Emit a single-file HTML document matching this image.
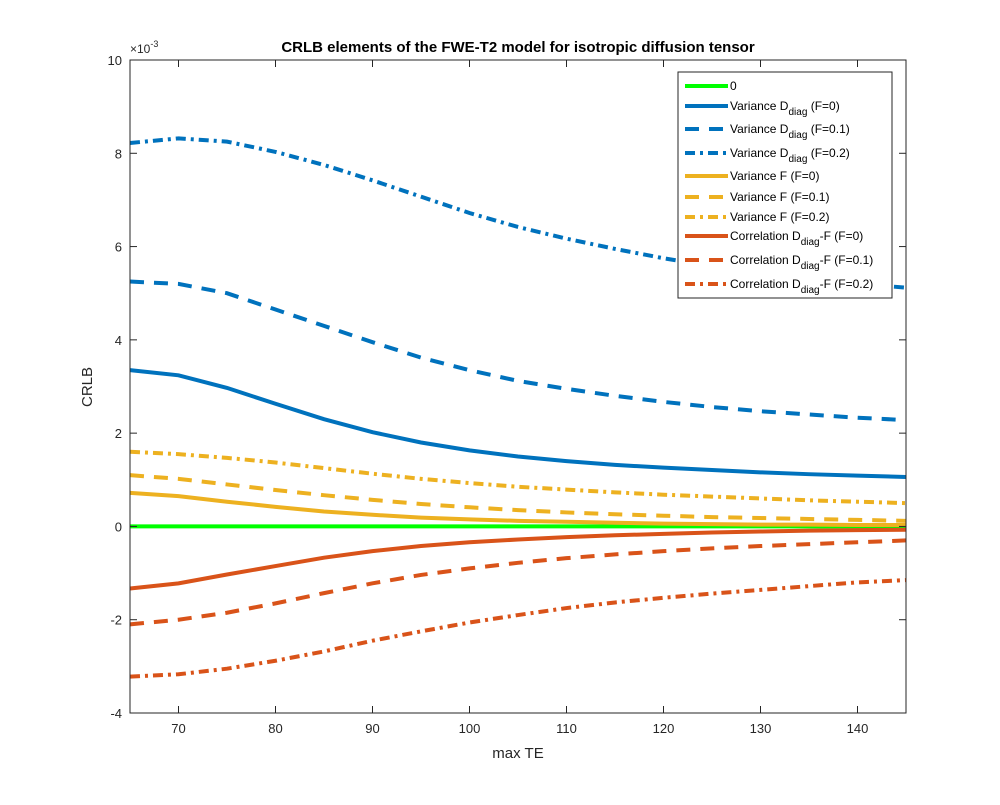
<!DOCTYPE html>
<html><head><meta charset="utf-8"><style>
body{margin:0;background:#fff}
svg text{font-family:"Liberation Sans",sans-serif}
</style></head><body>
<svg id="chart" width="1000" height="800" xmlns="http://www.w3.org/2000/svg">
<rect x="0" y="0" width="1000" height="800" fill="#fff"/>
<rect x="130" y="60" width="776" height="653" fill="#fff"/>
<g id="grid"></g>
<g id="series"></g>
<rect x="130" y="60" width="776" height="653" fill="none" stroke="#262626" stroke-width="1"/>
<g id="ticks"></g>
<text x="518" y="52" text-anchor="middle" font-size="15" font-weight="bold" fill="#000">CRLB elements of the FWE-T2 model for isotropic diffusion tensor</text>
<text x="518" y="758" text-anchor="middle" font-size="15" fill="#262626">max TE</text>
<text x="92" y="387" text-anchor="middle" font-size="15" fill="#262626" transform="rotate(-90 92 387)">CRLB</text>
<text x="130" y="53" font-size="12" fill="#262626">×10<tspan dy="-6" font-size="9">-3</tspan></text>
<g id="legend"></g>
</svg>
<script>
const xs=[65,70,75,80,85,90,95,100,105,110,115,120,125,130,135,140,145];
const zeroLine=[0,0,0,0,0,0,0,0,0,0,0,0,0,0,0,0,0];
const varD0=[3.35,3.24,2.97,2.63,2.3,2.02,1.8,1.63,1.5,1.4,1.32,1.26,1.21,1.16,1.12,1.09,1.06];
const varD1=[5.25,5.2,5.0,4.65,4.3,3.95,3.62,3.35,3.12,2.95,2.8,2.67,2.56,2.47,2.4,2.33,2.28];
const varD2=[8.22,8.32,8.25,8.03,7.75,7.42,7.07,6.72,6.42,6.17,5.95,5.75,5.58,5.43,5.3,5.2,5.12];
const varF0=[0.72,0.65,0.53,0.42,0.32,0.25,0.19,0.15,0.12,0.1,0.08,0.06,0.05,0.04,0.04,0.03,0.03];
const varF1=[1.1,1.02,0.9,0.78,0.67,0.57,0.48,0.41,0.35,0.3,0.26,0.23,0.2,0.18,0.16,0.14,0.12];
const varF2=[1.6,1.55,1.47,1.37,1.25,1.13,1.02,0.93,0.85,0.79,0.73,0.68,0.64,0.6,0.56,0.53,0.5];
const corr0=[-1.33,-1.22,-1.03,-0.85,-0.67,-0.53,-0.42,-0.34,-0.28,-0.23,-0.19,-0.16,-0.13,-0.11,-0.09,-0.08,-0.07];
const corr1=[-2.1,-2.0,-1.85,-1.65,-1.43,-1.22,-1.04,-0.9,-0.78,-0.68,-0.6,-0.53,-0.47,-0.42,-0.38,-0.34,-0.3];
const corr2=[-3.22,-3.17,-3.05,-2.88,-2.68,-2.45,-2.25,-2.06,-1.9,-1.75,-1.63,-1.53,-1.44,-1.36,-1.28,-1.2,-1.15];
const xTicks=[70,80,90,100,110,120,130,140];
const yTicks=[-4,-2,0,2,4,6,8,10];
const NS="http://www.w3.org/2000/svg";
const X0=130,X1=906,Y0=713,Y1=60,xmin=65,xmax=145,ymin=-4,ymax=10;
const sx=v=>X0+(v-xmin)/(xmax-xmin)*(X1-X0);
const sy=v=>Y0-(v-ymin)/(ymax-ymin)*(Y0-Y1);
function mk(t,a,p){const e=document.createElementNS(NS,t);for(const k in a)e.setAttribute(k,a[k]);p.appendChild(e);return e;}
const series=[
 {v:zeroLine,c:"#00ff00",d:"",n:"0",key:"zero"},
 {v:varD0,c:"#0072bd",d:"",n:"Variance D|diag| (F=0)",key:"var-d-f0"},
 {v:varD1,c:"#0072bd",d:"14 10",n:"Variance D|diag| (F=0.1)",key:"var-d-f01"},
 {v:varD2,c:"#0072bd",d:"10 5 3 5",n:"Variance D|diag| (F=0.2)",key:"var-d-f02"},
 {v:varF0,c:"#edb120",d:"",n:"Variance F (F=0)",key:"var-f-f0"},
 {v:varF1,c:"#edb120",d:"14 10",n:"Variance F (F=0.1)",key:"var-f-f01"},
 {v:varF2,c:"#edb120",d:"10 5 3 5",n:"Variance F (F=0.2)",key:"var-f-f02"},
 {v:corr0,c:"#d95319",d:"",n:"Correlation D|diag|-F (F=0)",key:"corr-f0"},
 {v:corr1,c:"#d95319",d:"14 10",n:"Correlation D|diag|-F (F=0.1)",key:"corr-f01"},
 {v:corr2,c:"#d95319",d:"10 5 3 5",n:"Correlation D|diag|-F (F=0.2)",key:"corr-f02"}];
const sg=document.getElementById('series');
series.forEach(s=>{
 const p=mk('polyline',{points:xs.map((x,i)=>sx(x)+','+sy(s.v[i])).join(' '),fill:'none',stroke:s.c,'stroke-width':4,'stroke-dasharray':s.d},sg);
 
 
});
const tg=document.getElementById('ticks');
xTicks.forEach(t=>{
 mk('line',{x1:sx(t),x2:sx(t),y1:Y0,y2:Y0-7,stroke:'#262626'},tg);
 mk('line',{x1:sx(t),x2:sx(t),y1:Y1,y2:Y1+7,stroke:'#262626'},tg);
 const e=mk('text',{x:sx(t),y:Y0+20,'text-anchor':'middle','font-size':13,fill:'#262626'},tg);e.textContent=t;
 
 
});
yTicks.forEach(t=>{
 mk('line',{x1:X0,x2:X0+7,y1:sy(t),y2:sy(t),stroke:'#262626'},tg);
 mk('line',{x1:X1,x2:X1-7,y1:sy(t),y2:sy(t),stroke:'#262626'},tg);
 const e=mk('text',{x:X0-8,y:sy(t)+5,'text-anchor':'end','font-size':13,fill:'#262626'},tg);e.textContent=t;
 
 
});
const lg=document.getElementById('legend');
const box=mk('rect',{x:678,y:72,width:214,height:226,fill:'#fff',stroke:'#262626'},lg);


const ly=[86,106,129,153,176,197,217,236,260,284];
series.forEach((s,i)=>{
 mk('line',{x1:685,x2:728,y1:ly[i],y2:ly[i],stroke:s.c,'stroke-width':4,'stroke-dasharray':s.d},lg);
 const t=mk('text',{x:730,y:ly[i]+4,'font-size':12,fill:'#000'},lg);
 
 
 const parts=s.n.split('|');
 parts.forEach((p,j)=>{
  const ts=mk('tspan',{},t);ts.textContent=p;
  if(j===1){ts.setAttribute('font-size','10');ts.setAttribute('dy','5');}
  if(j===2){ts.setAttribute('dy','-5');}
 });
});
</script>
</body></html>
